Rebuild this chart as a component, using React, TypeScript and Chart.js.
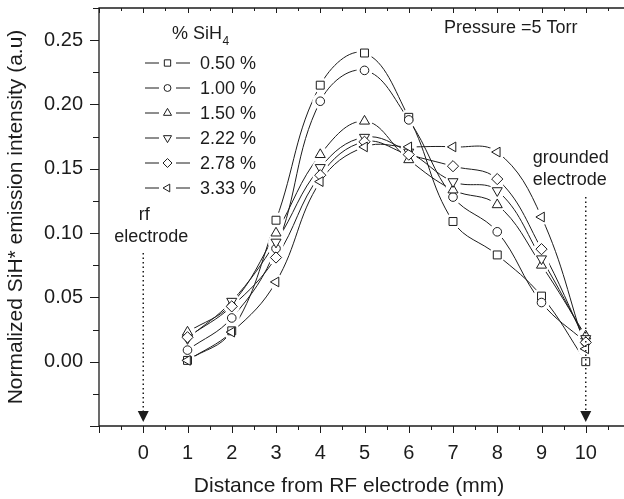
import React, { useEffect, useRef } from 'react';
import { Chart, registerables } from 'chart.js';

Chart.register(...registerables);

// ---------- data ----------
const distances = [1, 2, 3, 4, 5, 6, 7, 8, 9, 10];
const seriesLabels = ['0.50 %', '1.00 %', '1.50 %', '2.22 %', '2.78 %', '3.33 %'];
const sih4_050 = [0.001, 0.024, 0.110, 0.215, 0.240, 0.190, 0.109, 0.083, 0.051, 0.000];
const sih4_100 = [0.009, 0.034, 0.088, 0.2025, 0.2265, 0.188, 0.128, 0.101, 0.046, 0.015];
const sih4_150 = [0.023, 0.045, 0.100, 0.161, 0.187, 0.157, 0.1335, 0.122, 0.075, 0.020];
const sih4_222 = [0.018, 0.047, 0.093, 0.151, 0.1745, 0.163, 0.140, 0.133, 0.080, 0.018];
const sih4_278 = [0.019, 0.043, 0.081, 0.145, 0.171, 0.161, 0.152, 0.142, 0.0875, 0.015];
const sih4_333 = [0.001, 0.023, 0.062, 0.140, 0.167, 0.167, 0.167, 0.163, 0.1125, 0.010];
const allSeries = [sih4_050, sih4_100, sih4_150, sih4_222, sih4_278, sih4_333];
const xTickLabels = ['0', '1', '2', '3', '4', '5', '6', '7', '8', '9', '10'];
const yTickLabels = ['0.00', '0.05', '0.10', '0.15', '0.20', '0.25'];

// marker definitions (style)
const markers = [
  { style: 'rect', rotation: 0, r: 5.6 },
  { style: 'circle', rotation: 0, r: 4.3 },
  { style: 'triangle', rotation: 0, r: 5.8 },
  { style: 'triangle', rotation: 180, r: 5.8 },
  { style: 'rectRot', rotation: 0, r: 5.6 },
  { style: 'triangle', rotation: -90, r: 5.6 },
];

const FONT = '"Liberation Sans", Arial, Helvetica, sans-serif';
const INK = '#1c1c1c';

function drawMarker(ctx: CanvasRenderingContext2D, style: string, rot: number, r: number, x: number, y: number) {
  ctx.save();
  ctx.translate(x, y);
  ctx.rotate((rot * Math.PI) / 180);
  ctx.beginPath();
  if (style === 'circle') {
    ctx.arc(0, 0, r, 0, Math.PI * 2);
  } else if (style === 'rect') {
    const s = r * Math.SQRT1_2;
    ctx.rect(-s, -s, 2 * s, 2 * s);
  } else if (style === 'rectRot') {
    ctx.moveTo(0, -r); ctx.lineTo(r, 0); ctx.lineTo(0, r); ctx.lineTo(-r, 0); ctx.closePath();
  } else {
    const h = (r * 3) / 2;
    const half = (r * Math.sqrt(3)) / 2;
    ctx.moveTo(0, -r); ctx.lineTo(half, h - r); ctx.lineTo(-half, h - r); ctx.closePath();
  }
  ctx.fillStyle = '#fff';
  ctx.fill();
  ctx.lineWidth = 1;
  ctx.strokeStyle = INK;
  ctx.stroke();
  ctx.restore();
}

const decorPlugin = {
  id: 'decor',
  afterDraw(chart: any) {
    const { ctx, chartArea: a, scales } = chart;
    const xs = scales.x;
    const ys = scales.y;
    ctx.save();
    ctx.strokeStyle = INK;
    ctx.lineWidth = 1.3;
    // frame
    ctx.beginPath();
    ctx.moveTo(a.right, a.top);
    ctx.lineTo(a.left, a.top);
    ctx.lineTo(a.left, a.bottom);
    ctx.lineTo(a.right, a.bottom);
    ctx.lineTo(a.right, a.top);
    ctx.stroke();
    // x ticks
    ctx.lineWidth = 1;
    ctx.beginPath();
    for (let i = -2; i <= 22; i++) {
      const v = i / 2;
      const px = Math.round(xs.getPixelForValue(v)) + 0.5;
      const major = i % 2 === 0;
      ctx.moveTo(px, a.bottom);
      ctx.lineTo(px, a.bottom + (major ? 7 : 4));
      ctx.moveTo(px, a.top);
      ctx.lineTo(px, a.top + (major ? 5 : 3));
    }
    // y ticks
    for (let i = -2; i <= 11; i++) {
      const v = i * 0.025;
      const py = Math.round(ys.getPixelForValue(v)) + 0.5;
      const major = i % 2 === 0;
      ctx.moveTo(a.left, py);
      ctx.lineTo(a.left - (major ? 9 : 6), py);
    }
    ctx.stroke();

    // legend
    ctx.fillStyle = INK;
    ctx.textBaseline = 'middle';
    ctx.textAlign = 'left';
    ctx.font = `18px ${FONT}`;
    ctx.fillText('% SiH', 172, 34);
    const w = ctx.measureText('% SiH').width;
    ctx.font = `12px ${FONT}`;
    ctx.fillText('4', 172 + w + 0.5, 42);
    ctx.font = `18px ${FONT}`;
    seriesLabels.forEach((lab, i) => {
      const y = 63 + i * 25;
      ctx.beginPath();
      ctx.lineWidth = 1;
      ctx.moveTo(145, y); ctx.lineTo(159, y);
      ctx.moveTo(176, y); ctx.lineTo(190, y);
      ctx.stroke();
      const m = markers[i];
      drawMarker(ctx, m.style, m.rotation, m.r * 0.8, 167.5, y);
      ctx.fillStyle = INK;
      ctx.fillText(lab, 200, y + 1);
    });

    // pressure
    ctx.fillText('Pressure =5 Torr', 444, 28);

    // electrode annotations
    ctx.textAlign = 'center';
    const x0 = xs.getPixelForValue(0);
    const x10 = xs.getPixelForValue(10);
    ctx.fillText('rf', x0 + 1, 215);
    ctx.fillText('electrode', x0 + 8, 237);
    ctx.fillText('grounded', x10 - 15, 158);
    ctx.fillText('electrode', x10 - 16, 180);

    ctx.lineWidth = 1.5;
    ctx.setLineDash([1.5, 3]);
    ctx.beginPath();
    ctx.moveTo(x0, 253); ctx.lineTo(x0, 411);
    ctx.moveTo(x10, 197); ctx.lineTo(x10, 411);
    ctx.stroke();
    ctx.setLineDash([]);
    [x0, x10].forEach((px) => {
      ctx.beginPath();
      ctx.moveTo(px - 5.5, 411);
      ctx.lineTo(px + 5.5, 411);
      ctx.lineTo(px, 422);
      ctx.closePath();
      ctx.fill();
    });

    // x axis title
    ctx.font = `21px ${FONT}`;
    ctx.textAlign = 'center';
    ctx.fillText('Distance from RF electrode (mm)', 349, 486);
    ctx.restore();
  },
};

export default function App() {
  const ref = useRef<HTMLCanvasElement | null>(null);
  useEffect(() => {
    if (!ref.current) return;
    const lineSets = allSeries.map((vals, i) => ({
      label: seriesLabels[i],
      data: distances.map((d, j) => ({ x: d, y: vals[j] })),
      showLine: true,
      borderColor: INK,
      borderWidth: 1,
      pointRadius: 0,
      tension: 0.4,
      fill: false,
      order: 30,
    }));
    const haloSets = allSeries.map((vals, i) => ({
      label: 'halo' + i,
      data: distances.map((d, j) => ({ x: d, y: vals[j] })),
      showLine: false,
      pointStyle: 'circle',
      pointRadius: 8,
      pointBorderWidth: 0,
      pointBackgroundColor: '#fff',
      pointBorderColor: '#fff',
      order: 20,
    }));
    const markerSets = allSeries.map((vals, i) => ({
      label: 'm' + i,
      data: distances.map((d, j) => ({ x: d, y: vals[j] })),
      showLine: false,
      pointStyle: markers[i].style,
      pointRotation: markers[i].rotation,
      pointRadius: markers[i].r,
      pointBorderWidth: 1,
      pointBorderColor: INK,
      pointBackgroundColor: '#fff',
      order: 10 - i,
    }));
    const chart = new Chart(ref.current, {
      type: 'scatter',
      data: { datasets: [...lineSets, ...haloSets, ...markerSets] as any },
      options: {
        animation: false,
        responsive: false,
        events: [],
        layout: { padding: { top: 7, right: 10, left: 0, bottom: 0 } },
        plugins: { legend: { display: false }, tooltip: { enabled: false } },
        scales: {
          x: {
            type: 'linear',
            min: -1,
            max: 11,
            grid: { display: false, drawTicks: false },
            border: { display: false },
            ticks: {
              stepSize: 1,
              includeBounds: false,
              padding: 15,
              color: INK,
              font: { family: FONT, size: 20 },
              maxRotation: 0,
              autoSkip: false,
              callback: (v: any) => {
                const n = Math.round(Number(v));
                return n >= 0 && n <= 10 ? xTickLabels[n] : '';
              },
            },
            afterFit: (s: any) => {
              s.height = 73;
              s.paddingLeft = 0;
              s.paddingRight = 0;
            },
          },
          y: {
            type: 'linear',
            min: -0.05,
            max: 0.275,
            grid: { display: false, drawTicks: false },
            border: { display: false },
            ticks: {
              stepSize: 0.05,
              includeBounds: false,
              padding: 16,
              color: INK,
              font: { family: FONT, size: 20 },
              autoSkip: false,
              callback: (v: any) => {
                const k = Math.round(Number(v) / 0.05);
                return k >= 0 && k <= 5 ? yTickLabels[k] : '';
              },
            },
            title: {
              display: true,
              text: 'Normalized SiH* emission intensity (a.u)',
              color: INK,
              font: { family: FONT, size: 21 },
              padding: { top: 4, bottom: 0 },
            },
            afterFit: (s: any) => {
              s.width = 99;
              s.paddingTop = 0;
              s.paddingBottom = 0;
            },
          },
        },
      } as any,
      plugins: [decorPlugin],
    });
    return () => chart.destroy();
  }, []);
  return (
    <div style={{ position: 'fixed', left: 0, top: 0, width: 640, height: 499, background: '#fff' }}>
      <canvas ref={ref} width={640} height={499} style={{ display: 'block', width: 640, height: 499 }} />
    </div>
  );
}
